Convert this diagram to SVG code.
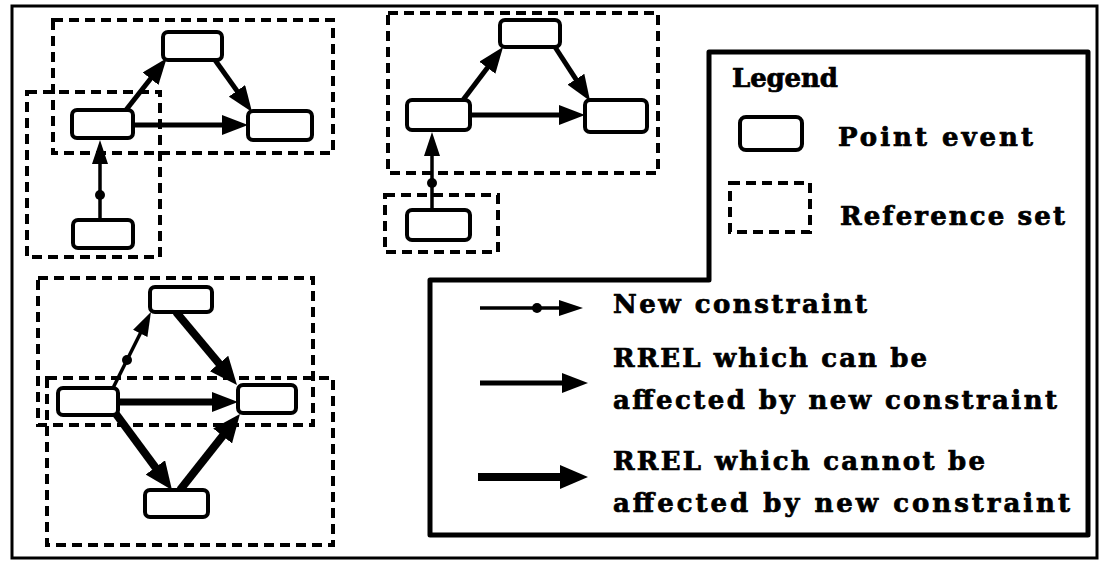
<svg xmlns="http://www.w3.org/2000/svg" width="1101" height="566" viewBox="0 0 1101 566">
<style>
.frame{fill:none;stroke:#000;stroke-width:3}
.legendbox{fill:none;stroke:#000;stroke-width:5;stroke-linejoin:round}
.node{fill:#fff;stroke:#000;stroke-width:4}
.ref{fill:none;stroke:#000;stroke-width:4;stroke-dasharray:10 6}
.thin{stroke:#000;stroke-width:3.5;fill:none}
.med{stroke:#000;stroke-width:5;fill:none}
.thick{stroke:#000;stroke-width:8;fill:none}
.dot{fill:#000}
text{font-family:"DejaVu Serif","Liberation Serif",serif;font-weight:bold;font-size:26px;fill:#000;stroke:#000;stroke-width:0.7}
</style>
<defs>
<marker id="hThin" markerUnits="userSpaceOnUse" markerWidth="24" markerHeight="16" refX="12" refY="8" orient="auto"><path d="M0,0 L24,8 L0,16 z" fill="#000"/></marker>
<marker id="hMed" markerUnits="userSpaceOnUse" markerWidth="26" markerHeight="20" refX="13" refY="10" orient="auto"><path d="M0,0 L26,10 L0,20 z" fill="#000"/></marker>
<marker id="hThick" markerUnits="userSpaceOnUse" markerWidth="28" markerHeight="24" refX="14" refY="12" orient="auto"><path d="M0,0 L28,12 L0,24 z" fill="#000"/></marker>
</defs>
<rect class="frame" x="12" y="6" width="1085" height="552"/>
<g id="reference-sets">
<rect class="ref" x="53" y="20" width="280" height="133"/>
<rect class="ref" x="27" y="92" width="133" height="165"/>
<rect class="ref" x="388" y="13" width="270" height="160"/>
<rect class="ref" x="385" y="195" width="113" height="57"/>
<rect class="ref" x="38" y="278" width="275" height="147"/>
<rect class="ref" x="47" y="378" width="286" height="167"/>
</g>
<g id="connectors">
<line class="med" x1="126" y1="110" x2="158.6" y2="68.5" marker-end="url(#hMed)"/>
<line class="med" x1="215" y1="60" x2="244.5" y2="101.4" marker-end="url(#hMed)"/>
<line class="med" x1="133" y1="125" x2="235" y2="125" marker-end="url(#hMed)"/>
<line class="thin" x1="100" y1="220" x2="100" y2="152" marker-end="url(#hThin)"/>
<circle class="dot" cx="100" cy="195" r="5"/>
<line class="med" x1="463" y1="100" x2="495.2" y2="57.4" marker-end="url(#hMed)"/>
<line class="med" x1="555" y1="47" x2="583" y2="90.1" marker-end="url(#hMed)"/>
<line class="med" x1="470" y1="115" x2="572" y2="115" marker-end="url(#hMed)"/>
<line class="thin" x1="432" y1="210" x2="432" y2="144" marker-end="url(#hThin)"/>
<circle class="dot" cx="432" cy="183" r="5"/>
<line class="thin" x1="113" y1="388" x2="145.6" y2="322.7" marker-end="url(#hThin)"/>
<circle class="dot" cx="127" cy="360" r="5"/>
<line class="thick" x1="176" y1="312" x2="228" y2="374.2" marker-end="url(#hThick)"/>
<line class="med" style="stroke-width:7" x1="118" y1="402" x2="225" y2="402" marker-end="url(#hMed)"/>
<line class="thick" x1="116" y1="414" x2="163.7" y2="478.7" marker-end="url(#hThick)"/>
<line class="thick" x1="180" y1="490" x2="231.3" y2="425" marker-end="url(#hThick)"/>
</g>
<g id="p1-top"><rect class="node" x="163" y="32" width="59" height="28" rx="5"/></g>
<g id="p1-left"><rect class="node" x="72" y="110" width="61" height="28" rx="5"/></g>
<g id="p1-right"><rect class="node" x="248" y="111" width="64" height="29" rx="5"/></g>
<g id="p1-bottom"><rect class="node" x="73" y="220" width="60" height="28" rx="5"/></g>
<g id="p2-top"><rect class="node" x="500" y="20" width="60" height="27" rx="5"/></g>
<g id="p2-left"><rect class="node" x="407" y="100" width="63" height="30" rx="5"/></g>
<g id="p2-right"><rect class="node" x="585" y="100" width="62" height="32" rx="5"/></g>
<g id="p2-bottom"><rect class="node" x="407" y="210" width="63" height="30" rx="5"/></g>
<g id="p3-top"><rect class="node" x="150" y="287" width="62" height="25" rx="5"/></g>
<g id="p3-left"><rect class="node" x="58" y="388" width="60" height="27" rx="5"/></g>
<g id="p3-right"><rect class="node" x="238" y="385" width="58" height="28" rx="5"/></g>
<g id="p3-bottom"><rect class="node" x="145" y="490" width="63" height="27" rx="5"/></g>
<g id="legend">
<path class="legendbox" d="M709,52 L1088,52 L1088,535 L430,535 L430,280 L709,280 Z"/>
<text x="732" y="87" textLength="106">Legend</text>
<rect class="node" x="740" y="117" width="62" height="33" rx="6"/>
<text x="838" y="146" textLength="195">Point  event</text>
<rect class="ref" x="730" y="183" width="80" height="49"/>
<text x="840" y="225" textLength="225">Reference  set</text>
<line class="thin" x1="480" y1="308" x2="571" y2="308" marker-end="url(#hThin)"/>
<circle class="dot" cx="537" cy="308" r="5"/>
<text x="613" y="313" textLength="254">New  constraint</text>
<line class="med" x1="480" y1="383" x2="575" y2="383" marker-end="url(#hMed)"/>
<text x="613" y="367" textLength="314">RREL  which  can  be</text>
<text x="613" y="409" textLength="444">affected  by  new  constraint</text>
<line class="thick" x1="478" y1="477" x2="574" y2="477" marker-end="url(#hThick)"/>
<text x="613" y="470" textLength="372">RREL  which  cannot  be</text>
<text x="613" y="512" textLength="457">affected  by  new  constraint</text>
</g>
</svg>
